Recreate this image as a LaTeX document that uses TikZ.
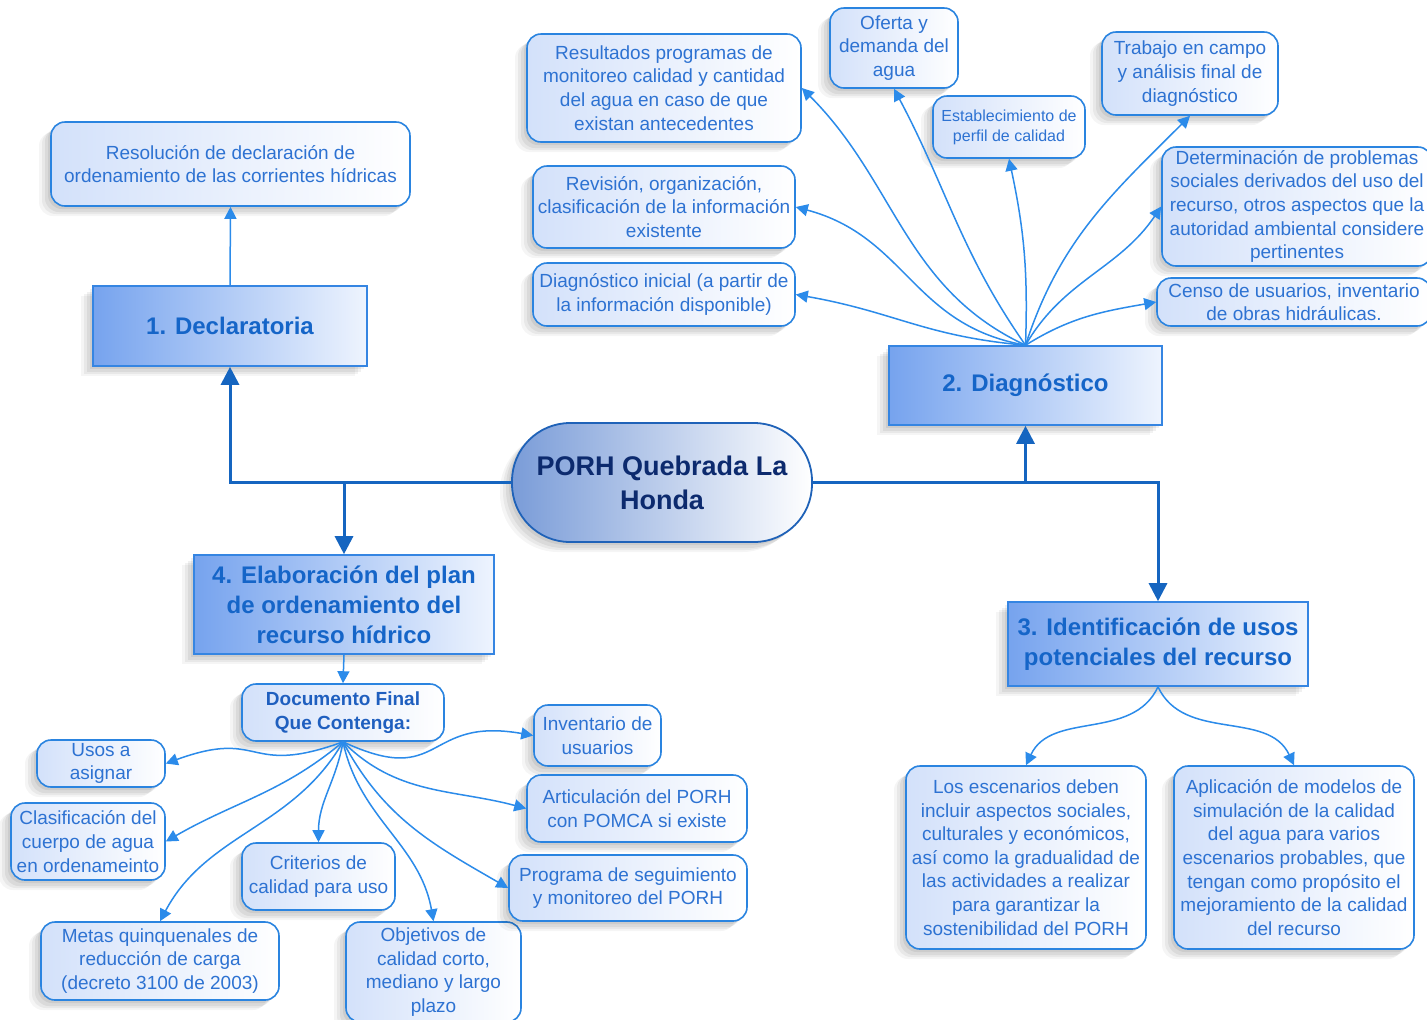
\documentclass[tikz,border=0pt]{standalone}
\usepackage{fontspec}
\setmainfont{Liberation Sans}
\usetikzlibrary{arrows.meta,shadows}
\definecolor{leafline}{HTML}{2A84E0}
\definecolor{leaftext}{HTML}{2D72D2}
\definecolor{leafL}{HTML}{D3E1FA}
\definecolor{mainline}{HTML}{3585E2}
\definecolor{mainL}{HTML}{76A3EE}
\definecolor{mainR}{HTML}{EEF4FE}
\definecolor{maintext}{HTML}{1565C8}
\definecolor{coreline}{HTML}{1F62B8}
\definecolor{coreL}{HTML}{7A9CD8}
\definecolor{coretext}{HTML}{0C2A6E}
\definecolor{connM}{HTML}{1565C0}
\definecolor{connL}{HTML}{2B8BEA}
\definecolor{doctext}{HTML}{1F5FBF}
\begin{document}
\begin{tikzpicture}[x=0.5pt,y=-0.5pt,
  shad/.style={
    general shadow={shadow xshift=-1.5pt,shadow yshift=-1.5pt,opacity=0.06,fill=black},
    general shadow={shadow xshift=-3pt,shadow yshift=-3pt,opacity=0.06,fill=black},
    general shadow={shadow xshift=-4.5pt,shadow yshift=-4pt,opacity=0.05,fill=black},
    general shadow={shadow xshift=-6pt,shadow yshift=-5pt,opacity=0.04,fill=black}},
  leaf/.style={shad,draw=leafline,line width=0.8pt,rounded corners=7pt,left color=leafL,right color=white,
    text=leaftext,font=\fontsize{9.5}{11.8}\selectfont,align=center,inner sep=1pt},
  mainbox/.style={shad,draw=mainline,line width=0.8pt,left color=mainL,right color=mainR,
    text=maintext,font=\bfseries\fontsize{12}{15}\selectfont,align=center,inner sep=1pt},
  conn/.style={draw=connL,line width=0.75pt,-{Triangle[length=6pt,width=6pt]}},
  mconn/.style={draw=connM,line width=1.5pt,-{Triangle[length=9pt,width=9pt]}}]
\useasboundingbox (0,0) rectangle (1427,1019);
\fill[white] (0,0) rectangle (1427,1019);

% core
\node[shad,draw=coreline,line width=0.9pt,rounded corners=29pt,left color=coreL,right color=white,
  text=coretext,font=\bfseries\fontsize{13.5}{17}\selectfont,align=center,
  minimum width=150pt,minimum height=59.5pt] (core) at (662,482.5) {PORH Quebrada La\\Honda};

% main boxes
\node[mainbox,minimum width=137pt,minimum height=40pt] (decl) at (230,326) {1. Declaratoria};
\node[mainbox,minimum width=136.5pt,minimum height=39.5pt] (diag) at (1025.5,385.5) {2. Diagnóstico};
\node[mainbox,minimum width=150pt,minimum height=42pt] (ident) at (1158,644) {3. Identificación de usos\\potenciales del recurso};
\node[mainbox,minimum width=150pt,minimum height=49.5pt] (elab) at (344,604.5) {4. Elaboración del plan\\de ordenamiento del\\recurso hídrico};

% declaratoria leaf
\node[leaf,minimum width=179.5pt,minimum height=42pt] (res) at (230.5,164) {Resolución de declaración de\\ordenamiento de las corrientes hídricas};

% diagnostico leaves
\node[leaf,minimum width=137pt,minimum height=54pt] (resul) at (664,88) {Resultados programas de\\monitoreo calidad y cantidad\\del agua en caso de que\\existan antecedentes};
\node[leaf,minimum width=64pt,minimum height=40pt] (ofer) at (894,48) {Oferta y\\demanda del\\agua};
\node[leaf,minimum width=76pt,minimum height=31pt,font=\fontsize{8}{10}\selectfont] (estab) at (1009,127) {Establecimiento de\\perfil de calidad};
\node[leaf,minimum width=88pt,minimum height=41.5pt] (trab) at (1190,73.5) {Trabajo en campo\\y análisis final de\\diagnóstico};
\node[leaf,minimum width=135pt,minimum height=59.5pt] (deter) at (1297,206.5) {Determinación de problemas\\sociales derivados del uso del\\recurso, otros aspectos que la\\autoridad ambiental considere\\pertinentes};
\node[leaf,minimum width=137pt,minimum height=24pt] (censo) at (1294,302) {Censo de usuarios, inventario\\de obras hidráulicas.};
\node[leaf,minimum width=131pt,minimum height=41pt] (revis) at (664,207) {Revisión, organización,\\clasificación de la información\\existente};
\node[leaf,minimum width=131pt,minimum height=31.5pt] (dinic) at (664,294.5) {Diagnóstico inicial (a partir de\\la información disponible)};

% identificacion leaves
\node[leaf,minimum width=120pt,minimum height=91.5pt] (esc) at (1026,857.5) {Los escenarios deben\\incluir aspectos sociales,\\culturales y económicos,\\así como la gradualidad de\\las actividades a realizar\\para garantizar la\\sostenibilidad del PORH};
\node[leaf,minimum width=120pt,minimum height=91.5pt] (apl) at (1294,857.5) {Aplicación de modelos de\\simulación de la calidad\\del agua para varios\\escenarios probables, que\\tengan como propósito el\\mejoramiento de la calidad\\del recurso};

% elaboracion leaves
\node[leaf,minimum width=101pt,minimum height=28.5pt,text=doctext,font=\bfseries\fontsize{9.5}{12}\selectfont] (doc) at (343,712.5) {Documento Final\\Que Contenga:};
\node[leaf,minimum width=64pt,minimum height=23.5pt] (usos) at (101,763.5) {Usos a\\asignar};
\node[leaf,minimum width=77pt,minimum height=38.5pt] (clas) at (88,841.5) {Clasificación del\\cuerpo de agua\\en ordenameinto};
\node[leaf,minimum width=76.5pt,minimum height=33.5pt] (crit) at (318.5,876.5) {Criterios de\\calidad para uso};
\node[leaf,minimum width=119pt,minimum height=39pt] (metas) at (160,961) {Metas quinquenales de\\reducción de carga\\(decreto 3100 de 2003)};
\node[leaf,minimum width=87.5pt,minimum height=50pt] (objet) at (433.5,972) {Objetivos de\\calidad corto,\\mediano y largo\\plazo};
\node[leaf,minimum width=63.5pt,minimum height=30.5pt] (invent) at (597.5,735.5) {Inventario de\\usuarios};
\node[leaf,minimum width=110pt,minimum height=33.5pt] (artic) at (637,808.5) {Articulación del PORH\\con POMCA si existe};
\node[leaf,minimum width=119pt,minimum height=33pt] (progr) at (628,888) {Programa de seguimiento\\y monitoreo del PORH};

% main connectors
\coordinate (jl) at (elab.north |- core.west);
\coordinate (jr) at (diag.south |- core.east);
\draw[mconn] (core.west) -| (decl.south);
\draw[mconn] (jl) -- (elab.north);
\draw[mconn] (core.east) -| (ident.north);
\draw[mconn] (jr) -- (diag.south);

% leaf connectors
\draw[conn] (decl.north) -- (res.south);
\draw[conn] (diag.north) to[out=155,in=-45] (resul.east);
\draw[conn] (diag.north) to[out=125,in=-62] (ofer.south);
\draw[conn] (diag.north) to[out=88,in=-78] (estab.south);
\draw[conn] (diag.north) to[out=72,in=-135] (trab.south);
\draw[conn] (diag.north) to[out=60,in=-124] (deter.west);
\draw[conn] (diag.north) to[out=32,in=190] (censo.west);
\draw[conn] (diag.north) to[out=170,in=-15,looseness=1.1] (revis.east);
\draw[conn] (diag.north) to[out=175,in=-10,looseness=1.1] (dinic.east);

\draw[conn] (ident.south) to[out=-115,in=65] (esc.north);
\draw[conn] (ident.south) to[out=-65,in=115] (apl.north);

\draw[conn] (elab.south) -- (doc.north);
\draw[conn] (doc.south) to[out=-160,in=20,looseness=1.5] (usos.east);
\draw[conn] (doc.south) to[out=-140,in=30] (clas.east);
\draw[conn] (doc.south) to[out=-120,in=62] (metas.north);
\draw[conn] (doc.south) to[out=-100,in=90] (crit.north);
\draw[conn] (doc.south) to[out=-78,in=100] (objet.north);
\draw[conn] (doc.south) to[out=-62,in=150] (progr.west);
\draw[conn] (doc.south) to[out=-45,in=165] (artic.west);
\draw[conn] (doc.south) to[out=-25,in=170,looseness=1.5] (invent.west);
\end{tikzpicture}
\end{document}
